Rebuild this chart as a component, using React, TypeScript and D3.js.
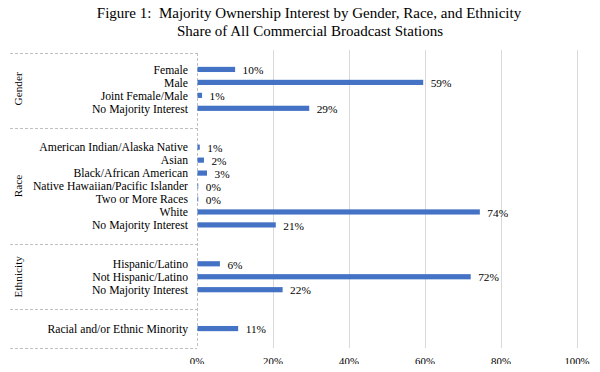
import React, { useEffect, useRef } from 'react';
import * as d3 from 'd3';

const groups = ['Gender', 'Race', 'Ethnicity', ''];
const genderCats = ['Female', 'Male', 'Joint Female/Male', 'No Majority Interest'];
const genderVals = [0.099, 0.594, 0.012, 0.294];
const raceCats = ['American Indian/Alaska Native', 'Asian', 'Black/African American', 'Native Hawaiian/Pacific Islander', 'Two or More Races', 'White', 'No Majority Interest'];
const raceVals = [0.006, 0.017, 0.025, 0.002, 0.002, 0.743, 0.206];
const ethnicityCats = ['Hispanic/Latino', 'Not Hispanic/Latino', 'No Majority Interest'];
const ethnicityVals = [0.059, 0.719, 0.224];
const minorityCats = ['Racial and/or Ethnic Minority'];
const minorityVals = [0.107];
const xTicks = [0, 0.2, 0.4, 0.6, 0.8, 1.0];

const title1 = 'Figure 1:  Majority Ownership Interest by Gender, Race, and Ethnicity';
const title2 = 'Share of All Commercial Broadcast Stations';

function App() {
  const svgRef = useRef(null);
  const width = 600;
  const height = 372;

  useEffect(() => {
    const svg = d3.select(svgRef.current);
    svg.selectAll('*').remove();

    const font = 'Liberation Serif';
    const left = 197, right = 577, top = 50, bottom = 348, labelX = 10;

    // rows with a blank spacer before and after every group
    const cats = [genderCats, raceCats, ethnicityCats, minorityCats];
    const vals = [genderVals, raceVals, ethnicityVals, minorityVals];
    const rows = [];
    cats.forEach((list, g) => {
      rows.push({ id: `s${g}a`, group: g, blank: true });
      list.forEach((c, i) => rows.push({ id: `r${g}_${i}`, group: g, cat: c, value: vals[g][i] }));
      rows.push({ id: `s${g}b`, group: g, blank: true });
    });

    const x = d3.scaleLinear().domain([0, 1]).range([left, right]);
    const y = d3.scaleBand().domain(rows.map(d => d.id)).range([top, bottom]).paddingInner(0.6).paddingOuter(0.3);
    const step = y.step();
    const half = (step - y.bandwidth()) / 2;

    svg.append('rect').attr('width', width).attr('height', height).attr('fill', '#fff');

    // title
    svg.append('text').attr('x', 309).attr('y', 18).attr('text-anchor', 'middle')
      .attr('font-family', font).attr('font-size', 15).attr('fill', '#000')
      .style('white-space', 'pre').text(title1);
    svg.append('text').attr('x', 310).attr('y', 35.5).attr('text-anchor', 'middle')
      .attr('font-family', font).attr('font-size', 15).attr('fill', '#000').text(title2);

    // gridlines
    svg.append('g').selectAll('line').data(xTicks.slice(1)).enter().append('line')
      .attr('x1', d => Math.round(x(d)) + 0.5).attr('x2', d => Math.round(x(d)) + 0.5).attr('y1', top).attr('y2', bottom)
      .attr('stroke', '#d9d9d9').attr('stroke-width', 1);

    // group separators (dashed)
    const groupBounds = groups.map((g, gi) => {
      const gRows = rows.filter(r => r.group === gi);
      const y0 = y(gRows[0].id) - half;
      const y1 = y(gRows[gRows.length - 1].id) + y.bandwidth() + half;
      return { name: g, y0, y1 };
    });
    const lines = [top + 3, ...groupBounds.slice(0, -1).map(b => b.y1), bottom];
    svg.append('g').selectAll('line').data(lines).enter().append('line')
      .attr('x1', labelX).attr('x2', left).attr('y1', d => Math.round(d) + 0.5).attr('y2', d => Math.round(d) + 0.5)
      .attr('stroke', '#bfbfbf').attr('stroke-dasharray', '3,2');
    svg.append('line').attr('x1', left + 0.5).attr('x2', left + 0.5).attr('y1', top + 3).attr('y2', bottom)
      .attr('stroke', '#bfbfbf').attr('stroke-dasharray', '3,2');

    // group labels
    svg.append('g').selectAll('text').data(groupBounds.filter(b => b.name)).enter().append('text')
      .attr('transform', d => `translate(22,${(d.y0 + d.y1) / 2}) rotate(-90)`)
      .attr('text-anchor', 'middle')
      .attr('font-family', font).attr('font-size', 11.3).attr('fill', '#000')
      .text(d => d.name);

    const data = rows.filter(r => !r.blank);

    // category labels
    svg.append('g').selectAll('text').data(data).enter().append('text')
      .attr('x', 188).attr('y', d => y(d.id) + y.bandwidth() / 2).attr('dy', '0.36em')
      .attr('text-anchor', 'end')
      .attr('font-family', font).attr('font-size', 11.7).attr('fill', '#000')
      .text(d => d.cat);

    // bars
    svg.append('g').selectAll('rect').data(data).enter().append('rect')
      .attr('x', x(0) + 0.5).attr('y', d => y(d.id)).attr('height', y.bandwidth())
      .attr('width', d => Math.max(0, x(d.value) - x(0)))
      .attr('fill', '#4472c4');

    // value labels
    const fmt = d3.format('.0%');
    svg.append('g').selectAll('text').data(data).enter().append('text')
      .attr('x', d => x(d.value) + 8).attr('y', d => y(d.id) + y.bandwidth() / 2).attr('dy', '0.42em')
      .attr('font-family', font).attr('font-size', 11.3).attr('fill', '#000')
      .text(d => fmt(d.value));

    // x tick labels
    svg.append('g').selectAll('text').data(xTicks).enter().append('text')
      .attr('x', d => x(d)).attr('y', 365).attr('text-anchor', 'middle')
      .attr('font-family', font).attr('font-size', 10.8).attr('fill', '#000')
      .text(d => fmt(d));
  }, []);

  return (
    <div style={{ margin: -8 }}>
      <svg ref={svgRef} width={width} height={height} style={{ display: 'block' }} />
    </div>
  );
}

export default App;
